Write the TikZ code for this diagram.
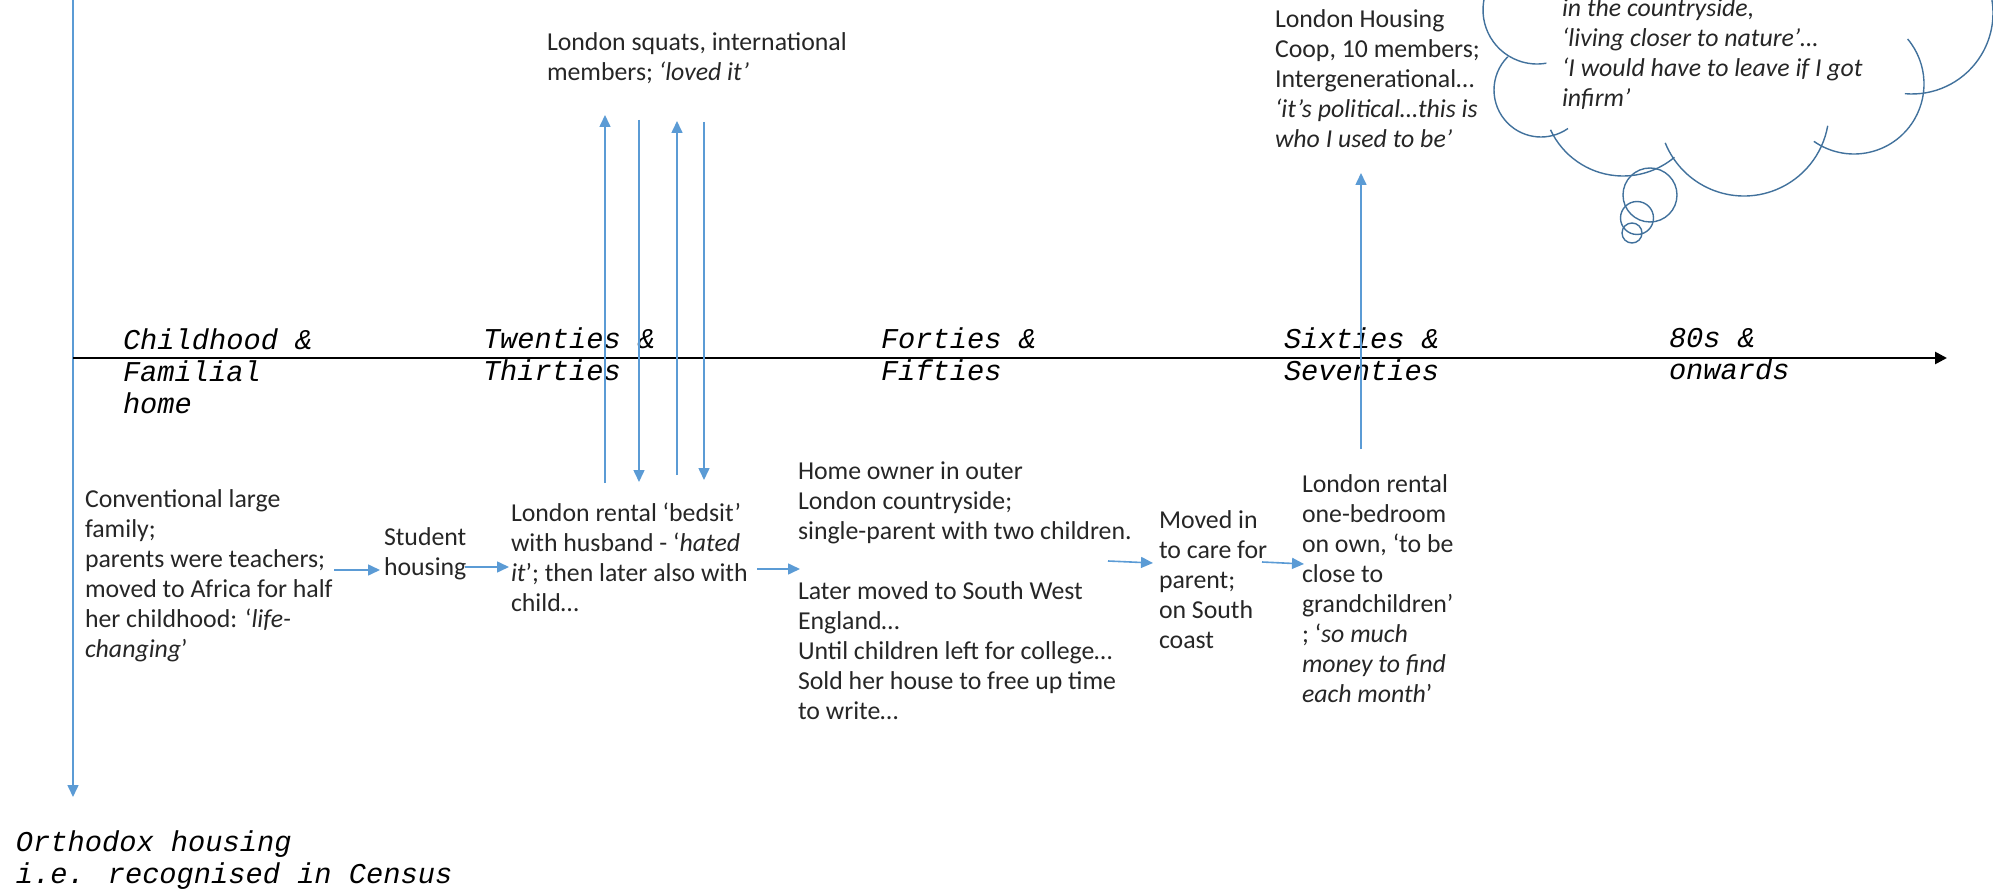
\documentclass[tikz,border=0pt]{standalone}
\usepackage{fontspec}
\setmainfont{Carlito}
\newfontfamily\labelmono{Liberation Mono}
\usetikzlibrary{arrows.meta,calc}
\definecolor{flowblue}{HTML}{5B9BD5}
\definecolor{cloudblue}{HTML}{41719C}
\definecolor{bodytext}{HTML}{262626}
% multi-line text whose reference point is the first baseline
\newcommand\stacked[1]{\begin{tabular}[t]{@{}l@{}}#1\end{tabular}}
% one lobe of the thought cloud: centre x, centre y, radius, start angle, end angle
\newcommand\lobe[5]{\draw[cloudline] (#1,#2) ++(#4:#3) arc[start angle=#4, end angle=#5, radius=#3];}
\begin{document}
\begin{tikzpicture}[x=0.5pt,y=-0.5pt,
  body/.style={anchor=base west, inner sep=0pt, outer sep=0pt, text=bodytext,
    font=\fontsize{12.9pt}{15pt}\selectfont},
  era/.style={anchor=base west, inner sep=0pt, outer sep=0pt, text=black,
    font=\labelmono\itshape\fontsize{14.35pt}{16pt}\selectfont},
  flow/.style={draw=flowblue, line width=0.8pt, -{Triangle[length=6pt,width=5.5pt]}},
  timeline/.style={draw=black, line width=1.3pt, -{Triangle[length=6pt,width=6pt]}},
  cloudline/.style={draw=cloudblue, line width=0.7pt},
]
\useasboundingbox (0,0) rectangle (1993,893);

% ---- axes ----
\coordinate (axtop) at (73,-4);
\coordinate (axbot) at (73,797);
\coordinate (tlstart) at (73,358);
\coordinate (tlend) at (1947,358);
\draw[flow] (axtop) -- (axbot);
\draw[timeline] (tlstart) -- (tlend);

% ---- period labels on the time line ----
\node[era] (childhood) at (123,350) {\stacked{Childhood \&\\Familial\\home}};
\node[era] (twenties)  at (483,349) {\stacked{Twenties \&\\Thirties}};
\node[era] (forties)   at (881,349) {\stacked{Forties \&\\Fifties}};
\node[era] (sixties)   at (1284,349) {\stacked{Sixties \&\\Seventies}};
\node[era] (eighties)  at (1669,348) {\stacked{80s \&\\onwards}};
\node[era] (orthodox)  at (16,851) {\stacked{Orthodox housing\\i.e. recognised in Census}};

% ---- housing stages below the line ----
\node[body] (family) at (85,507) {\stacked{Conventional large\\family;\\parents were teachers;\\moved to Africa for half\\her childhood: ‘\textit{life-}\\\textit{changing}’}};
\node[body] (student) at (384,545) {\stacked{Student\\housing}};
\node[body] (bedsit) at (511,521) {\stacked{London rental ‘bedsit’\\with husband - ‘\textit{hated}\\\textit{it}’; then later also with\\child…}};
\node[body] (owner) at (798,480) {\stacked{Home owner in outer\\London countryside;\\single-parent with two children.\\[15pt]Later moved to South West\\England…\\Until children left for college…\\Sold her house to free up time\\to write…}};
\node[body] (carer) at (1159,528) {\stacked{Moved in\\to care for\\parent;\\on South\\coast}};
\node[body] (rental) at (1302,492) {\stacked{London rental\\one-bedroom\\on own, ‘to be\\close to\\grandchildren’\\; ‘\textit{so much}\\\textit{money to find}\\\textit{each month}’}};

% ---- alternative housing above the line ----
\node[body] (squats) at (547,51) {\stacked{London squats, international\\members; \textit{‘loved it’}}};
\node[body] (coop) at (1275,28) {\stacked{London Housing\\Coop, 10 members;\\Intergenerational…\\\textit{‘it’s political…this is}\\\textit{who I used to be’}}};

% ---- moves between stages ----
\coordinate (familyout) at (334,570);  \coordinate (studentin) at (380,570);
\coordinate (studentout) at (465,567); \coordinate (bedsitin) at (509,567);
\coordinate (bedsitout) at (757,569);  \coordinate (ownerin) at (800,569);
\coordinate (ownerout) at (1108,561);  \coordinate (carerin) at (1153,563);
\coordinate (carerout) at (1262,562);  \coordinate (rentalin) at (1304,564);
\draw[flow] (familyout) -- (studentin);
\draw[flow] (studentout) -- (bedsitin);
\draw[flow] (bedsitout) -- (ownerin);
\draw[flow] (ownerout) -- (carerin);
\draw[flow] (carerout) -- (rentalin);

% back and forth between bedsit and squats
\coordinate (upAlow) at (605,483);  \coordinate (upAhigh) at (605,115);
\coordinate (dnAhigh) at (639,120); \coordinate (dnAlow) at (639,482);
\coordinate (upBlow) at (677,475);  \coordinate (upBhigh) at (677,121);
\coordinate (dnBhigh) at (704,122); \coordinate (dnBlow) at (704,480);
\draw[flow] (upAlow) -- (upAhigh);
\draw[flow] (dnAhigh) -- (dnAlow);
\draw[flow] (upBlow) -- (upBhigh);
\draw[flow] (dnBhigh) -- (dnBlow);

% rental up to the housing co-op
\coordinate (rentalup) at (1361,449); \coordinate (coopin) at (1361,173);
\draw[flow] (rentalup) -- (coopin);

% ---- thought cloud ----
\lobe{1537}{10}{54}{200}{80}
\lobe{1541}{90}{47}{225}{55}
\lobe{1623}{96}{80}{155}{50}
\lobe{1744}{111}{85}{158}{10}
\lobe{1854}{84}{70}{125}{-40}
\lobe{1912}{13}{81}{95}{-20}
\draw[cloudline] (1650,195) circle[radius=27];
\draw[cloudline] (1637,218) circle[radius=16.5];
\draw[cloudline] (1632,233) circle[radius=10];
\node[body] (thought) at (1562,17) {\stacked{\textit{in the countryside,}\\\textit{‘living closer to nature’…}\\\textit{‘I would have to leave if I got}\\\textit{infirm’}}};
\end{tikzpicture}
\end{document}
